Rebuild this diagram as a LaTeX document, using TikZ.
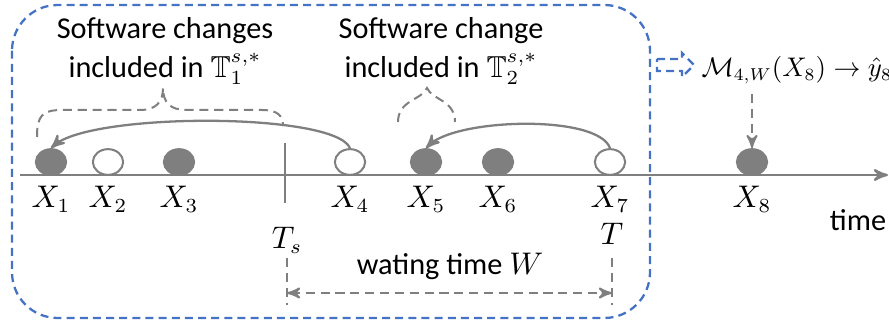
\documentclass[tikz,border=0pt]{standalone}
\usepackage{amssymb}
\usepackage{fontspec}
\setmainfont{Carlito}
\usetikzlibrary{positioning, arrows, shapes}

\definecolor{gray50}{HTML}{7F7F7F}
\definecolor{frameblue}{HTML}{4472C4}

\begin{document}
\begin{tikzpicture}[x=0.35pt, y=-0.35pt, >=stealth', font=\fontsize{10.6}{13.6}\selectfont,
    obs/.style={ellipse, draw=gray50, line width=0.7pt, minimum width=10.6pt, minimum height=9pt, inner sep=0pt},
    full/.style={obs, fill=gray50},
    open/.style={obs, fill=white},
    axis/.style={gray50, line width=0.8pt},
    dashline/.style={gray50, line width=0.7pt, dash pattern=on 3.2pt off 2pt},
    frame/.style={frameblue, line width=0.8pt, dash pattern=on 2.8pt off 1.8pt}]
  \useasboundingbox (0,0) rectangle (889,329);

  % window before the prediction point
  \draw[frame, rounded corners=16pt] (12,5) rectangle (650,318);

  % time axis
  \coordinate (start) at (20,175);
  \coordinate (end) at (888,175);
  \draw[axis, ->] (start) -- (end);
  \node (time) at (858,220) {time};

  % observations
  \node[full] (x1) at (51,162) {};
  \node[open] (x2) at (108,162) {};
  \node[full] (x3) at (179,162) {};
  \node[open] (x4) at (350,162) {};
  \node[full] (x5) at (426,162) {};
  \node[full] (x6) at (498,162) {};
  \node[open] (x7) at (610,162) {};
  \node[full] (x8) at (752,162) {};

  \foreach \i in {1,...,8}
    \node (l\i) [below=0pt of x\i] {$X_{\i}$};

  % split point and end of the window
  \coordinate (ts top) at (285,143);
  \coordinate (ts bot) at (285,203);
  \draw[axis] (ts top) -- (ts bot);
  \node (ts) at (287,240) {$T_s$};
  \node (t) at (612,234) {$T$};

  % waiting time
  \coordinate (w1) at (287,258);
  \coordinate (w2) at (287,305);
  \coordinate (w3) at (612,258);
  \coordinate (w4) at (612,305);
  \draw[dashline] (w1) -- (w2);
  \draw[dashline] (w3) -- (w4);
  \draw[dashline, <->] (287,293) -- (612,293);
  \node (wait) at (450,266) {wating time $W$};

  % software changes
  \node[align=center] (sc1) at (165,51) {Software changes\\ included in $\mathbb{T}_1^{s,*}$};
  \node[align=center] (sc2) at (441,51) {Software change\\ included in $\mathbb{T}_2^{s,*}$};

  \draw[dashline] (37,137) .. controls (37,116) and (42,110) .. (62,110) -- (140,110)
    .. controls (156,110) and (163,102) .. (163,88)
    .. controls (163,102) and (170,110) .. (186,110) -- (262,110)
    .. controls (278,110) and (283,116) .. (283,126);
  \draw[dashline] (398,122) .. controls (398,100) and (422,100) .. (427,88)
    .. controls (432,100) and (455,100) .. (455,122);

  \draw[axis, ->] (x4.north) .. controls +(-15,-36) and +(40,-36) .. (x1.north);
  \draw[axis, ->] (x7.north) .. controls +(-12,-34) and +(30,-30) .. (x5.north);

  % prediction with the model
  \node[anchor=west, inner sep=0pt] (model) at (701,70)
    {\scalebox{0.86}{$\mathcal{M}_{4,W}(X_8) \rightarrow \hat{y}_8$}};
  \draw[dashline, ->] (x8 |- model.south) ++(0,10) -- (x8.north);
  \draw[frame] (657,59) -- (682,59) -- (682,53) -- (694,65) -- (682,77) -- (682,71) -- (657,71) -- cycle;
\end{tikzpicture}
\end{document}
